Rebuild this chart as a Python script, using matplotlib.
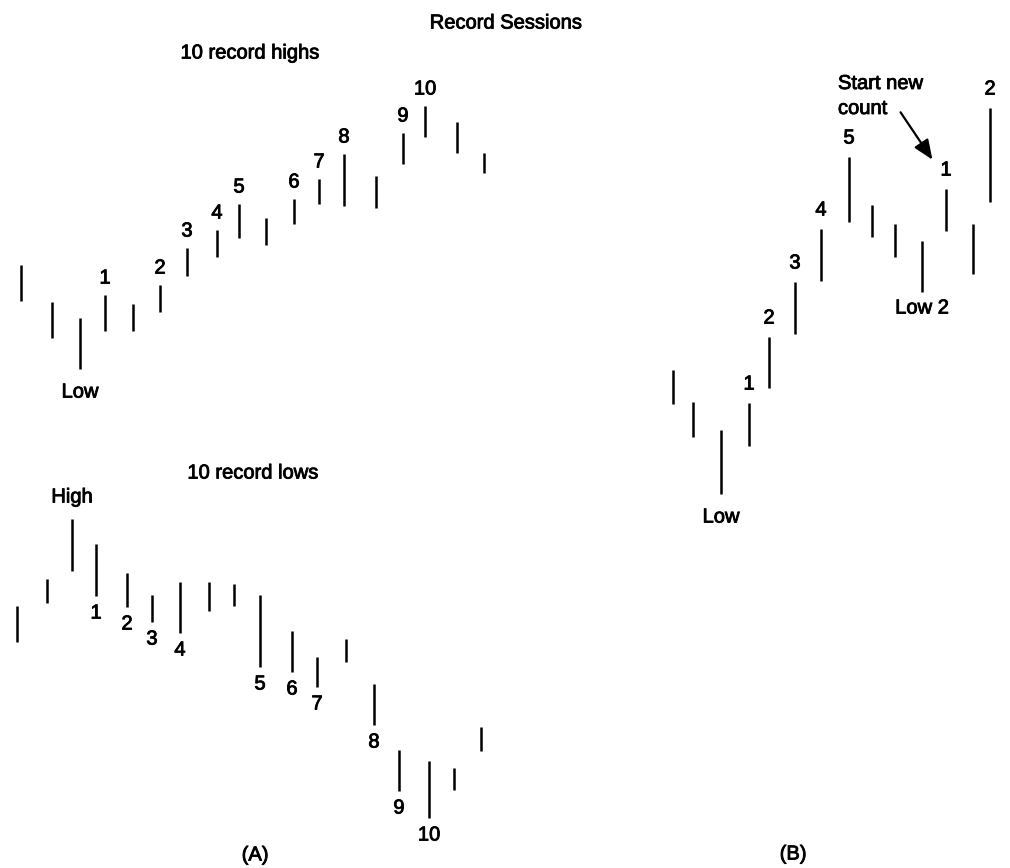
import matplotlib
matplotlib.use("Agg")
import matplotlib.pyplot as plt
import matplotlib.patheffects as pe

plt.rcParams['font.family'] = ['Liberation Sans', 'DejaVu Sans']

# Panel A, upper: 10 record highs (x position, bar top, bar bottom; y grows downward)
highs_x = [21, 52, 80, 105, 133, 160, 187, 217, 239, 266, 294, 319, 344, 376, 403, 425, 457, 484]
highs_top = [265, 302, 318, 295, 304, 285, 248, 230, 204, 218, 199, 179, 154, 176, 133, 106, 122, 153]
highs_bot = [301, 338, 369, 331, 331, 312, 276, 257, 238, 245, 224, 204, 206, 208, 164, 137, 153, 173]
highs_count = ['', '', '', '1', '', '2', '3', '4', '5', '', '6', '7', '8', '', '9', '10', '', '']

# Panel A, lower: 10 record lows
lows_x = [17, 47, 72, 96, 127, 152, 180, 209, 234, 260, 292, 317, 346, 374, 399, 429, 454, 481]
lows_top = [606, 579, 519, 544, 573, 595, 582, 582, 584, 595, 631, 657, 639, 684, 750, 761, 768, 727]
lows_bot = [642, 603, 571, 596, 607, 622, 633, 611, 606, 667, 672, 687, 662, 725, 791, 818, 790, 751]
lows_count = ['', '', '', '1', '2', '3', '4', '', '', '5', '6', '7', '', '8', '9', '10', '', '']

# Panel B: count restarted after a new low
b_x = [673, 693, 721, 749, 769, 795, 821, 849, 872, 895, 922, 946, 973, 990]
b_top = [370, 402, 430, 403, 337, 282, 229, 157, 205, 224, 241, 189, 224, 108]
b_bot = [404, 437, 494, 446, 388, 334, 281, 222, 237, 257, 292, 231, 274, 202]
b_count = ['', '', '', '1', '2', '3', '4', '5', '', '', '', '1', '', '2']

fig = plt.figure(figsize=(10.10, 8.68), dpi=100)
ax = fig.add_axes([0, 0, 1, 1])
ax.set_xlim(0, 1010)
ax.set_ylim(868, 0)
ax.axis('off')

# slightly heavier text, like the scanned original
txt = dict(fontsize=14.5, ha='center', va='center',
           path_effects=[pe.withStroke(linewidth=0.6, foreground='black')])
lw = 1.8

# bars
ax.vlines(highs_x, highs_top, highs_bot, colors='black', linewidth=lw)
ax.vlines(lows_x, lows_top, lows_bot, colors='black', linewidth=lw)
ax.vlines(b_x, b_top, b_bot, colors='black', linewidth=lw)

# count numbers: above the bar for highs, below for lows
for x, t, lab in zip(highs_x, highs_top, highs_count):
    if lab:
        ax.text(x, t - 17, lab, **txt)
for x, b, lab in zip(lows_x, lows_bot, lows_count):
    if lab:
        ax.text(x, b + 17, lab, **txt)
for x, t, lab in zip(b_x, b_top, b_count):
    if lab:
        ax.text(x, t - 19, lab, **txt)

# marker labels
ax.text(highs_x[2], highs_bot[2] + 23, 'Low', **txt)
ax.text(lows_x[2], lows_top[2] - 22, 'High', **txt)
ax.text(b_x[2], b_bot[2] + 23, 'Low', **txt)
ax.text(b_x[10], b_bot[10] + 16, 'Low 2', **txt)

# titles
ax.text(506, 23, 'Record Sessions', **txt)
ax.text(250, 53, '10 record highs', **txt)
ax.text(253, 473, '10 record lows', **txt)
ax.text(255, 855, '(A)', **txt)
ax.text(793, 854, '(B)', **txt)

# "Start new count" callout
ax.text(838, 96, 'Start new\ncount', linespacing=1.4,
        **{**txt, 'ha': 'left'})
ax.annotate('', xy=(b_x[11] - 12, b_top[11] - 27), xytext=(899, 110),
            arrowprops=dict(arrowstyle='-|>,head_length=0.6,head_width=0.25',
                            color='black', lw=1.6, mutation_scale=20))

fig.savefig('out.png', dpi=100, facecolor='white')
